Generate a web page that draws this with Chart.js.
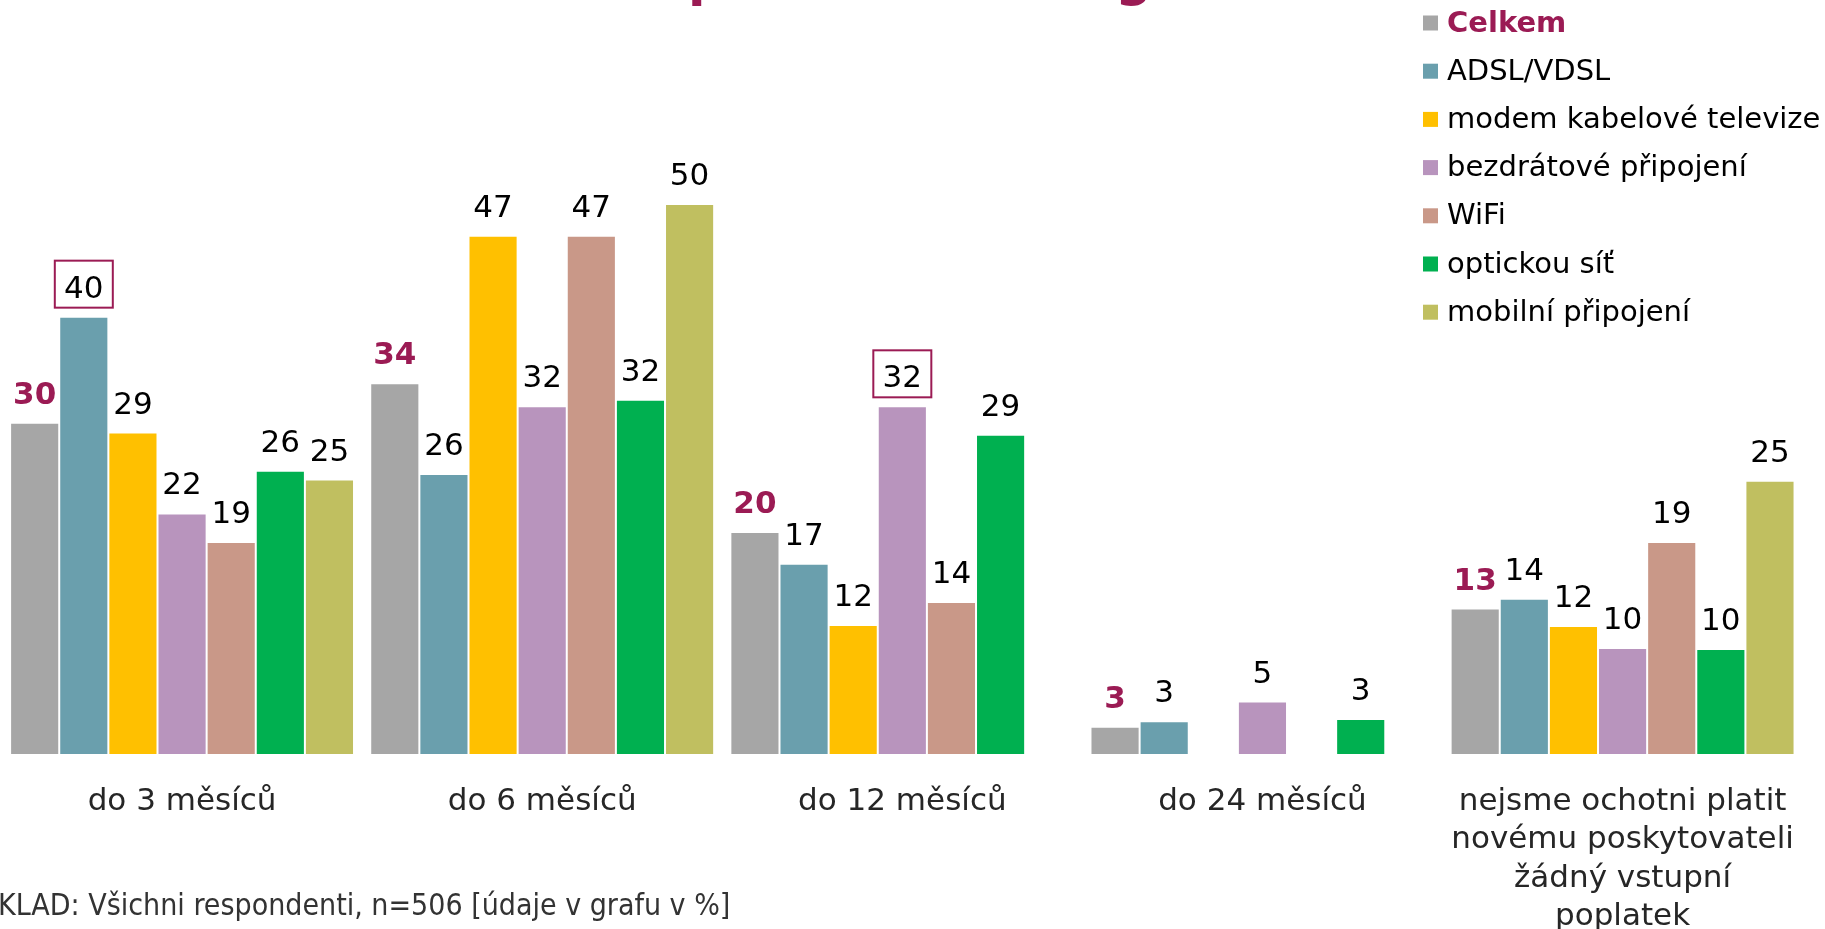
<!DOCTYPE html>
<html>
<head>
<meta charset="utf-8">
<script src="https://cdn.jsdelivr.net/npm/chart.js@4.4.0/dist/chart.umd.min.js"></script>
<style>
  html, body { margin: 0; padding: 0; background: #fff; overflow: hidden; }
</style>
</head>
<body>
<canvas id="chart" width="1825" height="929"></canvas>
<script>
const categories = ['do 3 měsíců', 'do 6 měsíců', 'do 12 měsíců', 'do 24 měsíců',
  ['nejsme ochotni platit', 'novému poskytovateli', 'žádný vstupní', 'poplatek']];

const seriesNames = ['Celkem', 'ADSL/VDSL', 'modem kabelové televize', 'bezdrátové připojení',
  'WiFi', 'optickou síť', 'mobilní připojení'];

const celkem     = [30.3, 33.9, 20.3, 2.5, 13.3];
const adsl       = [40, 25.6, 17.4, 3, 14.2];
const modem      = [29.4, 47.4, 11.8, null, 11.7];
const bezdratove = [22, 31.8, 31.8, 4.8, 9.7];
const wifi       = [19.4, 47.4, 13.9, null, 19.4];
const opticka    = [25.9, 32.4, 29.2, 3.2, 9.6];
const mobilni    = [25.1, 50.3, null, null, 25];

// labels with a frame: [series, category]
const framed = [[1, 0], [3, 2]];

const titleText = 'podle technologie';
const footnote = 'ZÁKLAD: Všichni respondenti, n=506 [údaje v grafu v %]';

const colors = ['#a6a6a6', '#6a9fad', '#ffc000', '#b894bd', '#c99888', '#00b050', '#c0bf60'];
const accent = '#9b1b54';

const allSeries = [celkem, adsl, modem, bezdratove, wifi, opticka, mobilni];

const datasets = allSeries.map((d, i) => ({
  label: seriesNames[i],
  data: d,
  backgroundColor: colors[i],
  borderColor: '#ffffff',
  borderWidth: 1,
  categoryPercentage: 0.955,
  barPercentage: 1
}));

// numbers above the bars
const valueLabels = {
  id: 'valueLabels',
  afterDatasetsDraw(chart) {
    const ctx = chart.ctx;
    ctx.save();
    ctx.textAlign = 'center';
    ctx.textBaseline = 'alphabetic';
    chart.data.datasets.forEach((ds, di) => {
      chart.getDatasetMeta(di).data.forEach((bar, i) => {
        const v = ds.data[i];
        if (v == null) return;
        const y = bar.y - 19;
        if (di == 0) {
          ctx.font = 'bold 31px "DejaVu Sans"';
          ctx.fillStyle = accent;
        } else {
          ctx.font = '31px "DejaVu Sans"';
          ctx.fillStyle = '#000000';
        }
        ctx.fillText(String(Math.round(v)), bar.x, y);
        framed.forEach(f => {
          if (f[0] == di && f[1] == i) {
            ctx.strokeStyle = accent;
            ctx.lineWidth = 2;
            ctx.strokeRect(bar.x - 29, y - 37, 58, 47);
          }
        });
      });
    });
    ctx.restore();
  }
};

// legend, title remainder and footnote
const extras = {
  id: 'extras',
  afterDraw(chart) {
    const ctx = chart.ctx;
    ctx.save();
    ctx.textBaseline = 'middle';
    ctx.textAlign = 'left';
    chart.data.datasets.forEach((ds, i) => {
      const cy = 23 + i * 48.2;
      ctx.fillStyle = ds.backgroundColor;
      ctx.fillRect(1423, cy - 7.5, 15, 15);
      if (i == 0) {
        ctx.font = 'bold 29px "DejaVu Sans"';
        ctx.fillStyle = accent;
      } else {
        ctx.font = '29px "DejaVu Sans"';
        ctx.fillStyle = '#000000';
      }
      ctx.fillText(ds.label, 1447, cy + 1);
    });

    ctx.textBaseline = 'alphabetic';
    ctx.textAlign = 'center';
    ctx.font = 'bold 51px "DejaVu Sans"';
    ctx.fillStyle = accent;
    ctx.fillText(titleText, 946, -5);

    ctx.textAlign = 'left';
    ctx.font = '30px "DejaVu Sans Condensed"';
    ctx.fillStyle = '#333333';
    ctx.fillText(footnote, -39, 915);
    ctx.restore();
  }
};

const ctx = document.getElementById('chart').getContext('2d');
new Chart(ctx, {
  type: 'bar',
  data: { labels: categories, datasets: datasets },
  options: {
    responsive: false,
    animation: false,
    layout: { padding: { left: 2, right: 21, top: 98, bottom: 0 } },
    plugins: {
      legend: { display: false },
      tooltip: { enabled: false }
    },
    scales: {
      x: {
        grid: { display: false, drawTicks: false },
        border: { display: false },
        ticks: {
          autoSkip: false,
          maxRotation: 0,
          minRotation: 0,
          padding: 29,
          color: '#262626',
          font: { family: 'DejaVu Sans', size: 31, lineHeight: 1.235 }
        },
        afterFit(scale) { scale.height = 175; }
      },
      y: {
        display: false,
        min: 0,
        max: 60
      }
    }
  },
  plugins: [valueLabels, extras]
});
</script>
</body>
</html>
